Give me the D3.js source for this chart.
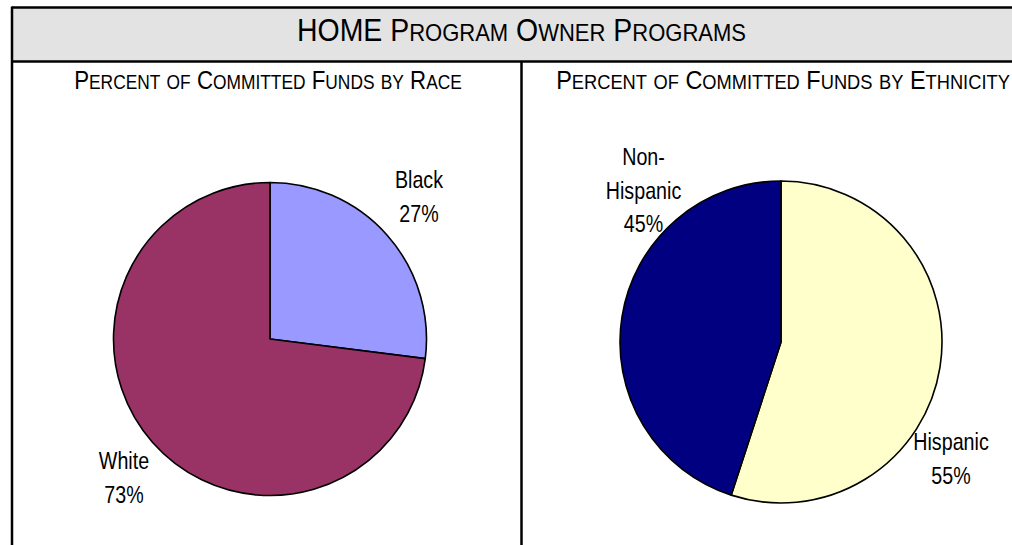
<!DOCTYPE html>
<html>
<head>
<meta charset="utf-8">
<script src="https://cdn.jsdelivr.net/npm/d3@7"></script>
<style>
  html, body { margin: 0; padding: 0; background: #fff; }
  svg { display: block; }
  text { font-family: "Liberation Sans", Arial, sans-serif; fill: #000; }
</style>
</head>
<body>
<svg id="chart" width="1012" height="545"></svg>
<script>
// Chart text
const mainTitle = "HOME Program Owner Programs";
const panelTitles = ["Percent of Committed Funds by Race", "Percent of Committed Funds by Ethnicity"];

// Race breakdown (percent of committed funds)
const raceCategories = ["Black", "White"];
const raceValues = [27, 73];
const raceColors = ["#9999ff", "#993366"];

// Ethnicity breakdown (percent of committed funds)
const ethnicityCategories = ["Hispanic", "Non-Hispanic"];
const ethnicityValues = [55, 45];
const ethnicityColors = ["#ffffcc", "#000080"];

const svg = d3.select("#chart");
const W = 1012, H = 545;
const NARROW = 0.82; // horizontal squeeze giving a condensed face

// Frame geometry
const frameLeft = 12, frameTop = 7.5, bandBottom = 61.5, divider = 521.5;

svg.append("rect")
  .attr("x", frameLeft).attr("y", frameTop)
  .attr("width", W + 20 - frameLeft).attr("height", bandBottom - frameTop)
  .attr("fill", "#e3e3e3");

const frame = svg.append("g").attr("stroke", "#000").attr("stroke-width", 2.5).attr("fill", "none");
frame.append("line").attr("x1", frameLeft).attr("x2", W + 5).attr("y1", frameTop).attr("y2", frameTop);
frame.append("line").attr("x1", frameLeft).attr("x2", W + 5).attr("y1", bandBottom).attr("y2", bandBottom);
frame.append("line").attr("x1", frameLeft).attr("x2", frameLeft).attr("y1", frameTop - 1).attr("y2", H + 5);
frame.append("line").attr("x1", divider).attr("x2", divider).attr("y1", bandBottom).attr("y2", H + 5);

// Condensed text: a group squeezed horizontally around its anchor point
function narrowText(parent, x, y, size, squeeze = NARROW) {
  const g = parent.append("g")
    .attr("transform", `translate(${x},${y}) scale(${squeeze},1)`);
  return g.append("text")
    .attr("text-anchor", "middle")
    .attr("font-size", size);
}

// Squeeze a heading so it spans the given width
function fitWidth(textSel, x, y, width) {
  const w = textSel.node().getComputedTextLength();
  d3.select(textSel.node().parentNode)
    .attr("transform", `translate(${x},${y}) scale(${width / w},1)`);
}

// Small-caps text: capitals at full size, lower-case letters set as reduced capitals
function smallCaps(sel, str, big, small) {
  const parts = str.match(/([A-Z0-9\s\-]+|[a-z]+)/g) || [];
  parts.forEach(p => {
    const lower = /^[a-z]+$/.test(p);
    sel.append("tspan")
      .attr("font-size", lower ? small : big)
      .text(lower ? p.toUpperCase() : p);
  });
  return sel;
}

const title = smallCaps(narrowText(svg, 522, 41, 31), mainTitle, 31, 24);
fitWidth(title, 521.5, 41, 449);

const panelCenters = [268, 783];
const panelWidths = [388, 454];
panelTitles.forEach((t, i) => {
  const pt = smallCaps(narrowText(svg, panelCenters[i], 89, 25), t, 25, 19.5);
  fitWidth(pt, panelCenters[i], 89, panelWidths[i]);
});

// Pie panels
const panels = [
  {
    cats: raceCategories, vals: raceValues, colors: raceColors,
    cx: 270, cy: 339, r: 156.5,
    labels: [
      { dx: 149, dy: -151, lines: null },
      { dx: -146, dy: 130, lines: null }
    ]
  },
  {
    cats: ethnicityCategories, vals: ethnicityValues, colors: ethnicityColors,
    cx: 781, cy: 342, r: 161,
    labels: [
      { dx: 170, dy: 108, lines: null },
      { dx: -137.5, dy: -177, lines: ["Non-", "Hispanic"] }
    ]
  }
];

const pie = d3.pie().sort(null).value(d => d);

panels.forEach(p => {
  const g = svg.append("g").attr("transform", `translate(${p.cx},${p.cy})`);
  const arc = d3.arc().innerRadius(0).outerRadius(p.r);
  const arcs = pie(p.vals);

  g.selectAll("path.slice")
    .data(arcs)
    .join("path")
    .attr("class", "slice")
    .attr("d", arc)
    .attr("fill", (d, i) => p.colors[i])
    .attr("stroke", "#000")
    .attr("stroke-width", 1.6)
    .attr("stroke-linejoin", "round");

  arcs.forEach((a, i) => {
    const lab = p.labels[i];
    const lines = (lab.lines || [p.cats[i]]).concat([a.data + "%"]);
    lines.forEach((ln, k) => {
      narrowText(g, lab.dx, lab.dy + k * 33.5, 24).text(ln);
    });
  });
});
</script>
</body>
</html>
